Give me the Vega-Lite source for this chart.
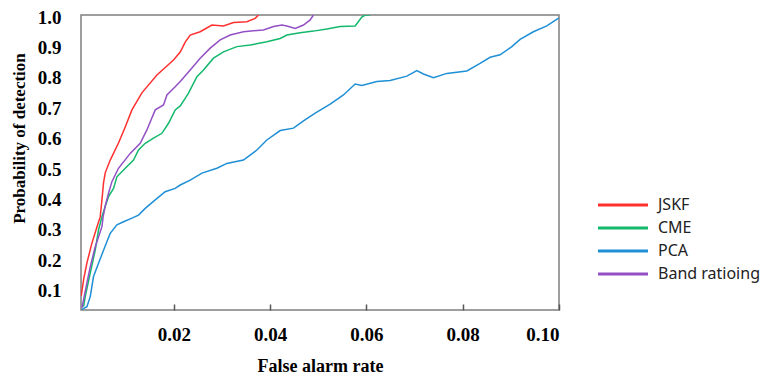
{
  "$schema": "https://vega.github.io/schema/vega-lite/v6.json",
  "width": 478,
  "height": 295,
  "autosize": "none",
  "padding": {"left": 81, "top": 15, "right": 208, "bottom": 66},
  "background": "white",
  "config": {
    "view": {"stroke": "#7f7f7f", "strokeWidth": 1.5},
    "axis": {"labelFont": "Liberation Serif", "titleFont": "Liberation Serif", "labelFontWeight": "bold", "titleFontWeight": "bold", "labelColor": "#000", "titleColor": "#000", "grid": false, "domain": false}
  },
  "datasets": {
    "roc": [
      {"method": "JSKF", "far": 0.00075, "pd": 0.076},
      {"method": "JSKF", "far": 0.00123, "pd": 0.129},
      {"method": "JSKF", "far": 0.00193, "pd": 0.185},
      {"method": "JSKF", "far": 0.00297, "pd": 0.250},
      {"method": "JSKF", "far": 0.00401, "pd": 0.303},
      {"method": "JSKF", "far": 0.00469, "pd": 0.336},
      {"method": "JSKF", "far": 0.00505, "pd": 0.392},
      {"method": "JSKF", "far": 0.00538, "pd": 0.448},
      {"method": "JSKF", "far": 0.00573, "pd": 0.481},
      {"method": "JSKF", "far": 0.00677, "pd": 0.523},
      {"method": "JSKF", "far": 0.00849, "pd": 0.579},
      {"method": "JSKF", "far": 0.00989, "pd": 0.632},
      {"method": "JSKF", "far": 0.01128, "pd": 0.688},
      {"method": "JSKF", "far": 0.01335, "pd": 0.744},
      {"method": "JSKF", "far": 0.01647, "pd": 0.803},
      {"method": "JSKF", "far": 0.01992, "pd": 0.852},
      {"method": "JSKF", "far": 0.02131, "pd": 0.878},
      {"method": "JSKF", "far": 0.02235, "pd": 0.911},
      {"method": "JSKF", "far": 0.02339, "pd": 0.934},
      {"method": "JSKF", "far": 0.02546, "pd": 0.945},
      {"method": "JSKF", "far": 0.02789, "pd": 0.967},
      {"method": "JSKF", "far": 0.0303, "pd": 0.964},
      {"method": "JSKF", "far": 0.03238, "pd": 0.975},
      {"method": "JSKF", "far": 0.03516, "pd": 0.978},
      {"method": "JSKF", "far": 0.03688, "pd": 0.989},
      {"method": "JSKF", "far": 0.03757, "pd": 1.0},
      {"method": "CME", "far": 0.00123, "pd": 0.041},
      {"method": "CME", "far": 0.00158, "pd": 0.074},
      {"method": "CME", "far": 0.00262, "pd": 0.151},
      {"method": "CME", "far": 0.00366, "pd": 0.227},
      {"method": "CME", "far": 0.00434, "pd": 0.293},
      {"method": "CME", "far": 0.00505, "pd": 0.337},
      {"method": "CME", "far": 0.00573, "pd": 0.370},
      {"method": "CME", "far": 0.00642, "pd": 0.403},
      {"method": "CME", "far": 0.00746, "pd": 0.430},
      {"method": "CME", "far": 0.00816, "pd": 0.468},
      {"method": "CME", "far": 0.00989, "pd": 0.496},
      {"method": "CME", "far": 0.01161, "pd": 0.523},
      {"method": "CME", "far": 0.01265, "pd": 0.556},
      {"method": "CME", "far": 0.01404, "pd": 0.578},
      {"method": "CME", "far": 0.01576, "pd": 0.595},
      {"method": "CME", "far": 0.01751, "pd": 0.611},
      {"method": "CME", "far": 0.01888, "pd": 0.644},
      {"method": "CME", "far": 0.02027, "pd": 0.688},
      {"method": "CME", "far": 0.02131, "pd": 0.701},
      {"method": "CME", "far": 0.02235, "pd": 0.726},
      {"method": "CME", "far": 0.02303, "pd": 0.743},
      {"method": "CME", "far": 0.02478, "pd": 0.797},
      {"method": "CME", "far": 0.02615, "pd": 0.819},
      {"method": "CME", "far": 0.02822, "pd": 0.858},
      {"method": "CME", "far": 0.0303, "pd": 0.879},
      {"method": "CME", "far": 0.03308, "pd": 0.896},
      {"method": "CME", "far": 0.03585, "pd": 0.901},
      {"method": "CME", "far": 0.03931, "pd": 0.912},
      {"method": "CME", "far": 0.04208, "pd": 0.923},
      {"method": "CME", "far": 0.04347, "pd": 0.934},
      {"method": "CME", "far": 0.04623, "pd": 0.942},
      {"method": "CME", "far": 0.04899, "pd": 0.947},
      {"method": "CME", "far": 0.05178, "pd": 0.954},
      {"method": "CME", "far": 0.05454, "pd": 0.962},
      {"method": "CME", "far": 0.05765, "pd": 0.964},
      {"method": "CME", "far": 0.05905, "pd": 0.993},
      {"method": "CME", "far": 0.05973, "pd": 1.0},
      {"method": "CME", "far": 0.06077, "pd": 1.0},
      {"method": "PCA", "far": 0.00089, "pd": 0.032},
      {"method": "PCA", "far": 0.00193, "pd": 0.041},
      {"method": "PCA", "far": 0.00262, "pd": 0.074},
      {"method": "PCA", "far": 0.0033, "pd": 0.140},
      {"method": "PCA", "far": 0.00434, "pd": 0.184},
      {"method": "PCA", "far": 0.00609, "pd": 0.255},
      {"method": "PCA", "far": 0.00677, "pd": 0.282},
      {"method": "PCA", "far": 0.00816, "pd": 0.310},
      {"method": "PCA", "far": 0.00953, "pd": 0.320},
      {"method": "PCA", "far": 0.01128, "pd": 0.332},
      {"method": "PCA", "far": 0.01265, "pd": 0.342},
      {"method": "PCA", "far": 0.01404, "pd": 0.364},
      {"method": "PCA", "far": 0.01612, "pd": 0.392},
      {"method": "PCA", "far": 0.01819, "pd": 0.419},
      {"method": "PCA", "far": 0.02027, "pd": 0.430},
      {"method": "PCA", "far": 0.02131, "pd": 0.441},
      {"method": "PCA", "far": 0.02339, "pd": 0.457},
      {"method": "PCA", "far": 0.02582, "pd": 0.480},
      {"method": "PCA", "far": 0.02893, "pd": 0.496},
      {"method": "PCA", "far": 0.031, "pd": 0.512},
      {"method": "PCA", "far": 0.03445, "pd": 0.523},
      {"method": "PCA", "far": 0.03724, "pd": 0.556},
      {"method": "PCA", "far": 0.03931, "pd": 0.589},
      {"method": "PCA", "far": 0.04208, "pd": 0.620},
      {"method": "PCA", "far": 0.04484, "pd": 0.628},
      {"method": "PCA", "far": 0.04692, "pd": 0.652},
      {"method": "PCA", "far": 0.04935, "pd": 0.677},
      {"method": "PCA", "far": 0.05246, "pd": 0.707},
      {"method": "PCA", "far": 0.05522, "pd": 0.737},
      {"method": "PCA", "far": 0.05765, "pd": 0.773},
      {"method": "PCA", "far": 0.05905, "pd": 0.768},
      {"method": "PCA", "far": 0.06216, "pd": 0.781},
      {"method": "PCA", "far": 0.06492, "pd": 0.785},
      {"method": "PCA", "far": 0.06839, "pd": 0.799},
      {"method": "PCA", "far": 0.07047, "pd": 0.817},
      {"method": "PCA", "far": 0.07184, "pd": 0.806},
      {"method": "PCA", "far": 0.07392, "pd": 0.794},
      {"method": "PCA", "far": 0.0767, "pd": 0.808},
      {"method": "PCA", "far": 0.08085, "pd": 0.816},
      {"method": "PCA", "far": 0.08361, "pd": 0.841},
      {"method": "PCA", "far": 0.08569, "pd": 0.861},
      {"method": "PCA", "far": 0.08777, "pd": 0.869},
      {"method": "PCA", "far": 0.0902, "pd": 0.896},
      {"method": "PCA", "far": 0.09192, "pd": 0.920},
      {"method": "PCA", "far": 0.09468, "pd": 0.945},
      {"method": "PCA", "far": 0.09747, "pd": 0.964},
      {"method": "PCA", "far": 0.09992, "pd": 0.990},
      {"method": "Band ratioing", "far": 0.00089, "pd": 0.037},
      {"method": "Band ratioing", "far": 0.00123, "pd": 0.063},
      {"method": "Band ratioing", "far": 0.00193, "pd": 0.119},
      {"method": "Band ratioing", "far": 0.00262, "pd": 0.172},
      {"method": "Band ratioing", "far": 0.00366, "pd": 0.238},
      {"method": "Band ratioing", "far": 0.00505, "pd": 0.304},
      {"method": "Band ratioing", "far": 0.00532, "pd": 0.339},
      {"method": "Band ratioing", "far": 0.00573, "pd": 0.372},
      {"method": "Band ratioing", "far": 0.00642, "pd": 0.414},
      {"method": "Band ratioing", "far": 0.00712, "pd": 0.452},
      {"method": "Band ratioing", "far": 0.00849, "pd": 0.496},
      {"method": "Band ratioing", "far": 0.01092, "pd": 0.545},
      {"method": "Band ratioing", "far": 0.013, "pd": 0.578},
      {"method": "Band ratioing", "far": 0.01439, "pd": 0.622},
      {"method": "Band ratioing", "far": 0.01612, "pd": 0.688},
      {"method": "Band ratioing", "far": 0.01784, "pd": 0.704},
      {"method": "Band ratioing", "far": 0.01855, "pd": 0.737},
      {"method": "Band ratioing", "far": 0.02027, "pd": 0.764},
      {"method": "Band ratioing", "far": 0.02131, "pd": 0.781},
      {"method": "Band ratioing", "far": 0.02339, "pd": 0.819},
      {"method": "Band ratioing", "far": 0.02546, "pd": 0.858},
      {"method": "Band ratioing", "far": 0.02754, "pd": 0.891},
      {"method": "Band ratioing", "far": 0.02962, "pd": 0.918},
      {"method": "Band ratioing", "far": 0.03169, "pd": 0.934},
      {"method": "Band ratioing", "far": 0.03445, "pd": 0.945},
      {"method": "Band ratioing", "far": 0.03861, "pd": 0.951},
      {"method": "Band ratioing", "far": 0.04069, "pd": 0.962},
      {"method": "Band ratioing", "far": 0.04243, "pd": 0.967},
      {"method": "Band ratioing", "far": 0.04347, "pd": 0.964},
      {"method": "Band ratioing", "far": 0.04519, "pd": 0.956},
      {"method": "Band ratioing", "far": 0.04692, "pd": 0.967},
      {"method": "Band ratioing", "far": 0.04831, "pd": 0.984},
      {"method": "Band ratioing", "far": 0.04899, "pd": 1.0}
    ]
  },
  "data": {"name": "roc"},
  "mark": {"type": "line", "strokeWidth": 1.5, "clip": true},
  "encoding": {
    "x": {
      "field": "far", "type": "quantitative",
      "scale": {"domain": [0.0007, 0.1], "nice": false, "zero": false},
      "axis": {"title": "False alarm rate", "values": [0.02, 0.04, 0.06, 0.08, 0.1], "format": ".2f", "labelFontSize": 19, "titleFontSize": 18, "ticks": true, "tickSize": -6, "tickColor": "#555555", "tickWidth": 1.5, "labelPadding": 21, "titlePadding": 13}
    },
    "y": {
      "field": "pd", "type": "quantitative",
      "scale": {"domain": [0.03, 1.0], "nice": false, "zero": false},
      "axis": {"title": "Probability of detection", "values": [0.1, 0.2, 0.3, 0.4, 0.5, 0.6, 0.7, 0.8, 0.9, 1.0], "format": ".1f", "labelFontSize": 19, "titleFontSize": 17, "ticks": false, "labelPadding": 20, "labelOffset": 2, "titlePadding": 9, "titleY": 123}
    },
    "color": {
      "field": "method", "type": "nominal",
      "scale": {"domain": ["JSKF", "CME", "PCA", "Band ratioing"], "range": ["#ff3030", "#12b86c", "#1f8fd6", "#9350c4"]},
      "legend": {"title": null, "orient": "none", "legendX": 528, "legendY": 176, "symbolType": "M-2,0H2", "symbolSize": 625, "symbolStrokeWidth": 3, "labelFont": "Noto Sans", "labelFontSize": 16, "labelColor": "#222", "labelOffset": 21, "rowPadding": 1}
    }
  }
}
